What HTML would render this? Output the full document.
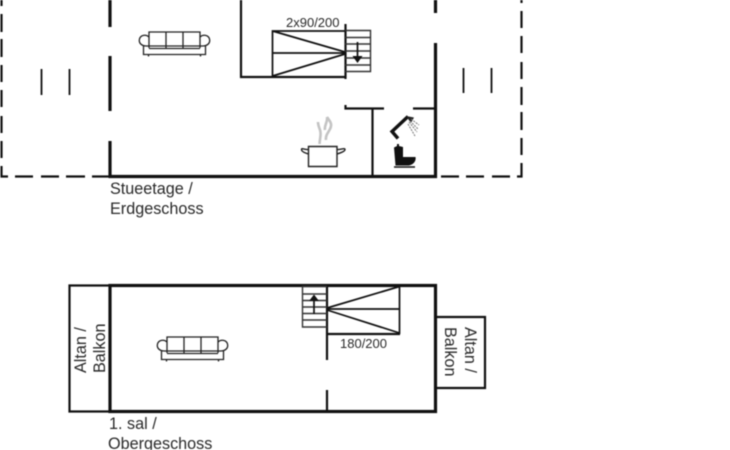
<!DOCTYPE html>
<html>
<head>
<meta charset="utf-8">
<style>
html,body{margin:0;padding:0;background:#fff;width:730px;height:450px;overflow:hidden}
svg{display:block;filter:blur(0.4px)}
text{font-family:"Liberation Sans",Arial,sans-serif;fill:#2a2a2a}
</style>
</head>
<body>
<svg width="730" height="450" viewBox="0 0 730 450" xmlns="http://www.w3.org/2000/svg">
<rect width="730" height="450" fill="#fff"/>
<g fill="none" stroke="#111" stroke-linecap="butt">
  <g stroke-width="2.200">
    <path d="M1.500 0V6M1.500 14V32M1.500 39V57M1.500 65V82M1.500 90V107M1.500 116V133M1.500 141V158M1.500 166V176.500H8"/>
    <path d="M15 176.500H33M41 176.500H59M66 176.500H85M92 176.500H110"/>
    <path d="M441 176.500H459M466 176.500H484M492 176.500H510M517 176.500H521.500V163M521.500 155V138M521.500 130V112M521.500 105V87M521.500 79V62M521.500 53V36M521.500 28V11M521.500 3V0"/>
  </g>
  <path d="M41.500 69V95M69.500 69V95M463.500 68V93M491.500 68V93" stroke-width="1.800"/>
  <path d="M110 0V27M110 56V111M110 141V176.500M108.500 176.500H437M435.500 178V43M435.500 13V0" stroke-width="3.200"/>
  <path d="M241 0V77H345M345.500 24V79" stroke-width="2.200"/>
  <path d="M345.500 105V108.500H384M413 108.500H435M372.500 108V176" stroke-width="2.200"/>
  <path d="M272.500 76V31H345M272.500 53H345M272.500 31L345 52M272.500 76L345 54" stroke-width="1.700"/>
  <path d="M345 30.500H370.500V71.500H345M345 37.500H370M345 44H370M345 51H370M345 58H370M345 65H370" stroke="#333" stroke-width="1.400"/>
  <path d="M357.500 42V56" stroke-width="1.700"/>
  <path d="M352.500 56H362.500L357.500 63Z" fill="#111" stroke="none"/>
</g>

<text x="286" y="27" font-size="13">2x90/200</text>
<text x="110" y="194" font-size="16.200">Stueetage /</text>
<text x="110" y="214" font-size="16.200">Erdgeschoss</text>

<g fill="none" stroke="#222" stroke-width="1.300">
  <path d="M149 48V32H200V48M166 32V48M183 32V48M149 46H200M149 48.500H200"/>
  <path d="M149 46H146.500C141.500 46 138.500 43 139.500 39C140.500 35 146 34 149 37"/>
  <path d="M200 46H202.500C207.500 46 210.500 43 209.500 39C208.500 35 203 34 200 37"/>
  <path d="M143.500 45V54.500H205.500V45M148.500 54.500V56.500M200.500 54.500V56.500"/>
</g>
<g transform="translate(18,305)" fill="none" stroke="#222" stroke-width="1.300">
  <path d="M149 48V32H200V48M166 32V48M183 32V48M149 46H200M149 48.500H200"/>
  <path d="M149 46H146.500C141.500 46 138.500 43 139.500 39C140.500 35 146 34 149 37"/>
  <path d="M200 46H202.500C207.500 46 210.500 43 209.500 39C208.500 35 203 34 200 37"/>
  <path d="M143.500 45V54.500H205.500V45M148.500 54.500V56.500M200.500 54.500V56.500"/>
</g>

<g fill="none" stroke="#222" stroke-width="1.400">
  <path d="M308.500 146.500H337V166.500H308.500Z"/>
  <path d="M308.500 149.500C305 150 301.500 147.500 301.500 149.500C301.500 151.500 305 153 308.500 154"/>
  <path d="M337 149.500C340 150 345 147.500 345 149.500C345 151.500 340 153 337 154"/>
</g>
<path d="M319.500 144C320 137 321.500 134 320 130C319 127 318 125 318 122M326 140C325 133 332 130 331 124C330.500 121 328 119 327 117C328 122 324 125 325 130" fill="none" stroke="#c4c4c4" stroke-width="2.600"/>

<path d="M398 138.500L392 131.500L408 116.500" fill="none" stroke="#111" stroke-width="3.400"/>
<path d="M406 116L414 117.500L411 123Z" fill="#222"/>
<path d="M411 119L419 125M410 121L418 129M409 122L417 132M408 124L415 136" fill="none" stroke="#777" stroke-width="1" stroke-dasharray="2 1"/>
<path d="M394 147.500L397 146V144H399V146L403 147V157H415.500C416.500 162 412 165.500 408 165.500H395.500Z" fill="#111"/>
<path d="M394 167H415" stroke="#111" stroke-width="1.400"/>

<g fill="none" stroke="#111">
  <path d="M110 285.500H69.500V411.500H110" stroke-width="2.200"/>
  <path d="M436 317H485V388H436" stroke-width="2.200"/>
  <rect x="110" y="285.500" width="325.500" height="126" stroke-width="3.200"/>
  <path d="M327 285V360M327 390V411" stroke-width="2.200"/>
  <path d="M327 334H400" stroke-width="2.200"/>
  <path d="M399.500 286V334M327 309H399.500M399.500 286.500L327 308M327 310L399.500 333" stroke-width="1.700"/>
  <path d="M327 286.500H302.500V327H327M302.500 294H327M302.500 300.500H327M302.500 307H327M302.500 313.500H327M302.500 320H327" stroke="#333" stroke-width="1.400"/>
  <path d="M314 314V301" stroke-width="1.700"/>
  <path d="M309 301H319L314 294.500Z" fill="#111" stroke="none"/>
</g>

<text font-size="16.200" transform="translate(86,373) rotate(-90)">Altan /</text>
<text font-size="16.200" transform="translate(105,373) rotate(-90)">Balkon</text>
<text font-size="16.200" transform="translate(465,327) rotate(90)">Altan /</text>
<text font-size="16.200" transform="translate(445,327) rotate(90)">Balkon</text>
<text x="340" y="348" font-size="13">180/200</text>
<text x="109" y="429" font-size="16.200">1. sal /</text>
<text x="108" y="449" font-size="16.200">Obergeschoss</text>
</svg>
</body>
</html>
